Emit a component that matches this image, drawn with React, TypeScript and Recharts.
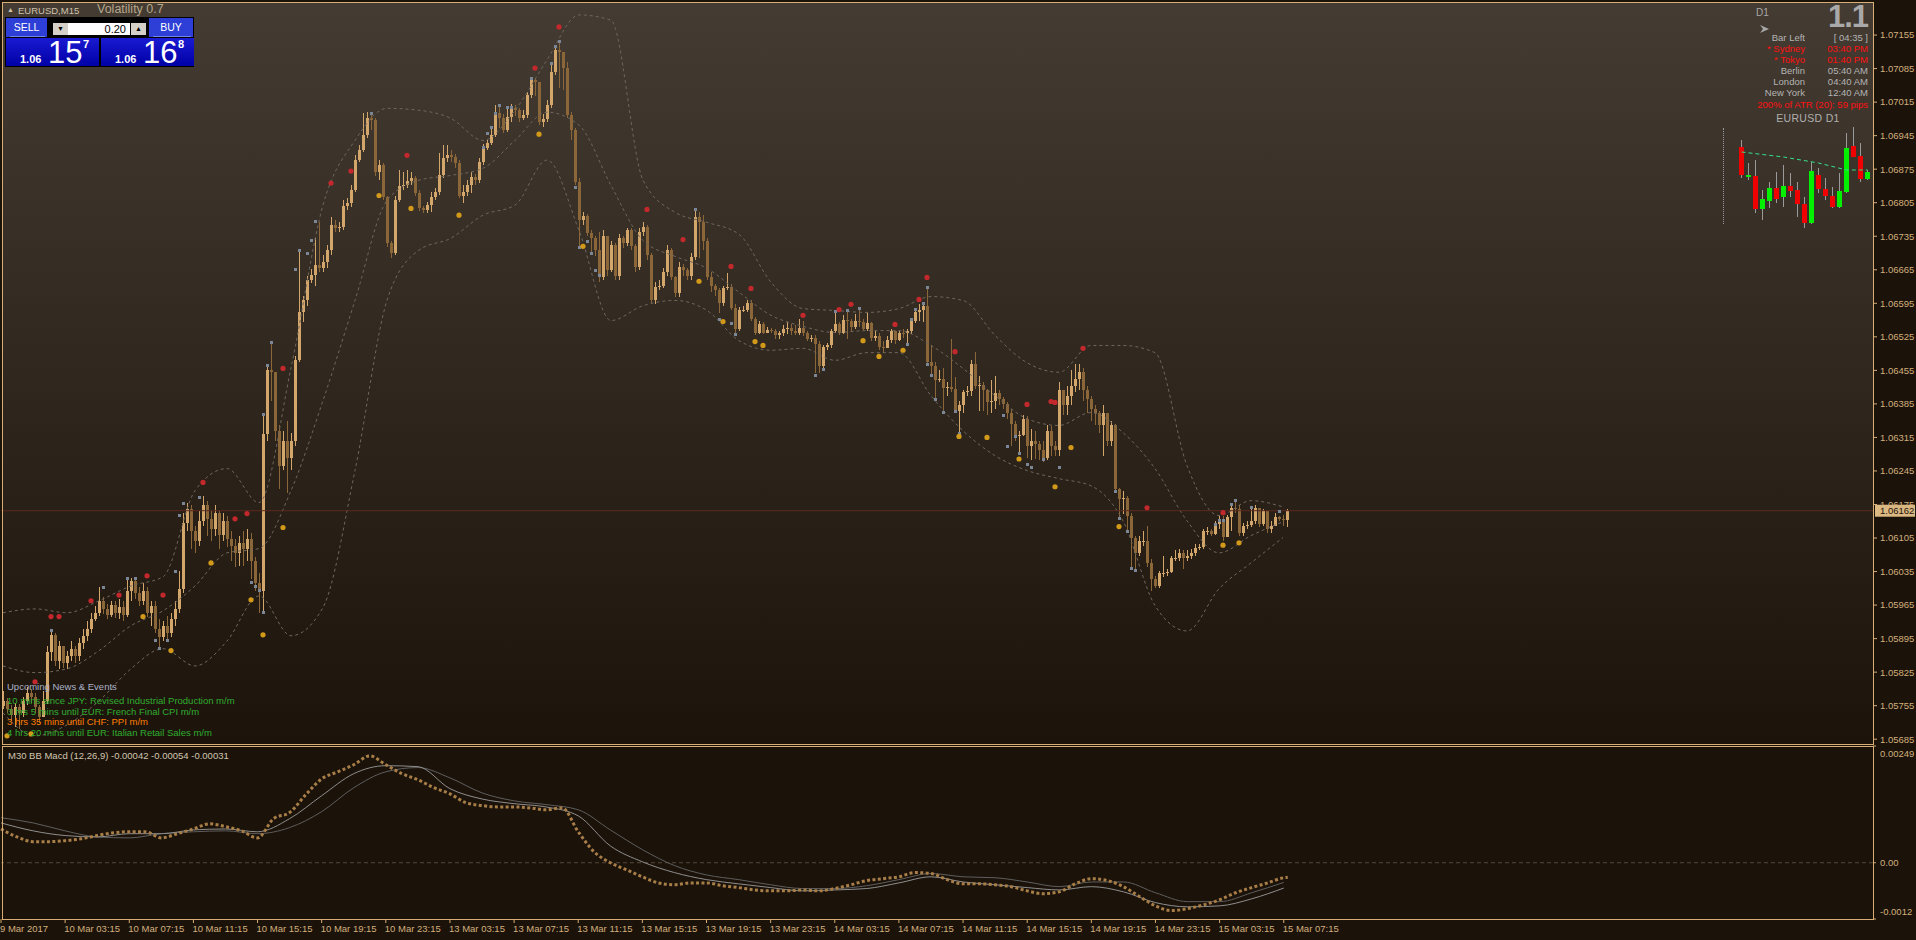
import React from 'react';
import { ComposedChart, Bar, Line, XAxis, YAxis, ReferenceLine } from 'recharts';

const FONT = '"Liberation Sans", Arial, sans-serif';
const BG = '#1b1209';
const FRAME = '#d6ae76';
const AXIS_TEXT = '#d2b07e';
const BULL = '#d3a66c';
const BEAR = '#8b6638';

// prices are kept in points above 1.05000
const BASE = 1.05;
const PT = 0.00001;
const toPrice = (pts: number) => +(BASE + pts * PT).toFixed(5);

const SLOTS = 468; // chart width in 4px bar slots
const firstOpenPts = 755;

const closePts = [
  765, 748, 736, 752, 740, 765, 782, 773, 752, 732,
  765, 868, 903, 849, 880, 845, 859, 874, 859, 886,
  901, 915, 936, 949, 974, 957, 945, 966, 949, 961,
  945, 995, 1016, 991, 974, 995, 949, 963, 915, 899,
  922, 907, 936, 957, 999, 1137, 1166, 1120, 1099, 1141,
  1173, 1145, 1124, 1158, 1112, 1141, 1104, 1089, 1074, 1095,
  1083, 1104, 1058, 1012, 995, 1323, 1455, 1451, 1329, 1256,
  1308, 1273, 1308, 1476, 1576, 1601, 1643, 1655, 1674, 1668,
  1681, 1706, 1758, 1752, 1754, 1799, 1804, 1831, 1894, 1915,
  1946, 1981, 1977, 1869, 1883, 1816, 1720, 1701, 1810, 1839,
  1841, 1850, 1856, 1825, 1793, 1789, 1800, 1816, 1827, 1862,
  1898, 1904, 1900, 1887, 1820, 1827, 1841, 1858, 1852, 1890,
  1919, 1929, 1946, 1992, 1981, 1956, 1984, 2002, 1998, 1981,
  1988, 2030, 2061, 2057, 1973, 1979, 2009, 2078, 2124, 2120,
  2086, 1988, 1956, 1848, 1768, 1777, 1741, 1731, 1706, 1649,
  1735, 1664, 1716, 1651, 1731, 1720, 1747, 1714, 1670, 1743,
  1754, 1695, 1601, 1630, 1632, 1660, 1706, 1649, 1616, 1670,
  1664, 1651, 1691, 1775, 1764, 1726, 1649, 1632, 1622, 1595,
  1626, 1630, 1586, 1542, 1580, 1582, 1595, 1563, 1534, 1551,
  1534, 1540, 1538, 1528, 1532, 1542, 1544, 1538, 1534, 1544,
  1532, 1521, 1523, 1511, 1465, 1503, 1507, 1538, 1551, 1534,
  1561, 1559, 1546, 1559, 1557, 1542, 1553, 1523, 1526, 1503,
  1501, 1519, 1538, 1519, 1534, 1532, 1538, 1559, 1576, 1580,
  1590, 1472, 1465, 1434, 1438, 1419, 1421, 1417, 1371, 1382,
  1409, 1411, 1469, 1423, 1425, 1413, 1388, 1392, 1407, 1396,
  1384, 1365, 1344, 1319, 1321, 1354, 1298, 1308, 1302, 1288,
  1273, 1329, 1298, 1288, 1413, 1382, 1402, 1423, 1438, 1451,
  1413, 1396, 1375, 1367, 1340, 1365, 1308, 1340, 1208, 1187,
  1189, 1152, 1106, 1074, 1099, 1099, 1053, 1020, 1005, 1031,
  1033, 1035, 1064, 1064, 1074, 1064, 1068, 1074, 1085, 1087,
  1120, 1120, 1114, 1135, 1145, 1108, 1148, 1168, 1166, 1116,
  1131, 1133, 1141, 1168, 1135, 1162, 1124, 1131, 1148, 1145,
  1143, 1162,
];

const highPts = [
  786, 771, 757, 761, 759, 773, 794, 790, 782, 757,
  786, 880, 915, 907, 890, 880, 870, 890, 880, 896,
  915, 932, 949, 963, 1003, 982, 968, 974, 974, 978,
  974, 1020, 1022, 1020, 1003, 1012, 1003, 974, 974, 936,
  932, 943, 949, 974, 1037, 1158, 1179, 1173, 1131, 1162,
  1192, 1183, 1162, 1173, 1162, 1158, 1152, 1120, 1104, 1110,
  1120, 1124, 1116, 1066, 1033, 1363, 1468, 1515, 1451, 1340,
  1329, 1350, 1325, 1486, 1702, 1611, 1653, 1666, 1731, 1764,
  1695, 1716, 1775, 1768, 1764, 1810, 1814, 1841, 1904, 1925,
  1992, 1994, 1992, 1981, 1894, 1887, 1820, 1726, 1820, 1873,
  1869, 1873, 1869, 1860, 1831, 1799, 1806, 1827, 1835, 1908,
  1925, 1925, 1915, 1906, 1894, 1841, 1852, 1869, 1864, 1898,
  1927, 1935, 1963, 2009, 2009, 1990, 2004, 2011, 2009, 2002,
  1998, 2036, 2067, 2065, 2057, 1990, 2019, 2099, 2134, 2144,
  2103, 2099, 1994, 1961, 1856, 1785, 1781, 1747, 1735, 1743,
  1747, 1735, 1726, 1720, 1739, 1735, 1752, 1752, 1718, 1752,
  1764, 1758, 1701, 1639, 1643, 1668, 1716, 1710, 1653, 1681,
  1677, 1668, 1701, 1793, 1785, 1779, 1731, 1660, 1635, 1626,
  1632, 1658, 1635, 1593, 1588, 1590, 1601, 1601, 1567, 1559,
  1555, 1546, 1544, 1542, 1538, 1549, 1555, 1551, 1549, 1563,
  1559, 1538, 1528, 1528, 1517, 1507, 1513, 1542, 1576, 1555,
  1570, 1580, 1563, 1572, 1586, 1563, 1576, 1555, 1538, 1532,
  1517, 1526, 1542, 1538, 1538, 1542, 1542, 1563, 1584, 1593,
  1597, 1628, 1507, 1472, 1455, 1459, 1430, 1521, 1442, 1392,
  1413, 1423, 1476, 1493, 1444, 1430, 1417, 1434, 1444, 1413,
  1400, 1388, 1375, 1350, 1329, 1361, 1359, 1333, 1329, 1308,
  1308, 1340, 1338, 1308, 1430, 1402, 1423, 1455, 1468, 1468,
  1459, 1423, 1402, 1382, 1371, 1382, 1354, 1350, 1344, 1210,
  1204, 1192, 1158, 1110, 1110, 1120, 1131, 1062, 1026, 1037,
  1068, 1041, 1068, 1079, 1083, 1079, 1079, 1083, 1093, 1093,
  1124, 1127, 1124, 1141, 1152, 1150, 1154, 1177, 1183, 1173,
  1137, 1141, 1168, 1173, 1166, 1166, 1162, 1141, 1158, 1152,
  1154, 1166,
];

const lowPts = [
  748, 740, 723, 711, 706, 732, 757, 761, 740, 719,
  740, 759, 849, 838, 832, 834, 832, 849, 845, 849,
  874, 890, 907, 932, 943, 947, 936, 940, 938, 936,
  932, 940, 974, 978, 963, 966, 940, 922, 907, 876,
  890, 890, 899, 922, 949, 991, 1120, 1083, 1074, 1089,
  1131, 1110, 1099, 1110, 1083, 1099, 1087, 1058, 1045, 1047,
  1047, 1058, 1020, 995, 949, 949, 1308, 1392, 1308, 1208,
  1246, 1200, 1246, 1298, 1472, 1555, 1590, 1638, 1632, 1660,
  1660, 1668, 1695, 1743, 1743, 1747, 1789, 1795, 1827, 1890,
  1910, 1940, 1956, 1860, 1852, 1810, 1712, 1689, 1695, 1806,
  1831, 1835, 1843, 1818, 1787, 1783, 1783, 1785, 1810, 1822,
  1856, 1890, 1890, 1877, 1814, 1804, 1820, 1825, 1841, 1846,
  1883, 1915, 1925, 1942, 1961, 1950, 1952, 1973, 1986, 1973,
  1977, 1981, 2023, 2028, 1967, 1963, 1973, 2002, 2072, 2044,
  2040, 1981, 1935, 1841, 1710, 1758, 1735, 1699, 1693, 1639,
  1643, 1653, 1660, 1643, 1643, 1710, 1714, 1706, 1660, 1664,
  1735, 1685, 1595, 1593, 1622, 1626, 1651, 1643, 1609, 1609,
  1651, 1643, 1643, 1685, 1689, 1706, 1643, 1618, 1611, 1574,
  1590, 1622, 1580, 1532, 1538, 1576, 1576, 1559, 1528, 1530,
  1530, 1532, 1534, 1521, 1521, 1526, 1530, 1528, 1528, 1528,
  1526, 1517, 1515, 1449, 1449, 1459, 1497, 1501, 1534, 1528,
  1530, 1521, 1538, 1542, 1546, 1538, 1538, 1517, 1517, 1497,
  1492, 1513, 1513, 1511, 1517, 1523, 1507, 1530, 1553, 1559,
  1555, 1467, 1444, 1396, 1430, 1371, 1402, 1409, 1367, 1325,
  1367, 1402, 1402, 1417, 1371, 1371, 1361, 1367, 1375, 1382,
  1375, 1354, 1298, 1308, 1284, 1317, 1273, 1267, 1271, 1267,
  1263, 1267, 1277, 1277, 1277, 1361, 1361, 1382, 1409, 1413,
  1392, 1367, 1350, 1340, 1325, 1277, 1298, 1298, 1200, 1147,
  1156, 1120, 1043, 1037, 1068, 1089, 1045, 995, 1001, 1001,
  1024, 1026, 1031, 1058, 1058, 1041, 1058, 1062, 1068, 1079,
  1083, 1112, 1110, 1112, 1124, 1099, 1110, 1120, 1158, 1110,
  1110, 1124, 1129, 1135, 1129, 1131, 1116, 1116, 1131, 1141,
  1131, 1129,
];

// Bollinger bands, one reading every 8 bars
const BB_STEP = 8;
const bbUpperPts = [949, 957, 949, 974, 1005, 1024, 1204, 1250, 1179, 1460, 1800, 1935, 2002, 1998, 1981, 1935, 1998, 2103, 2197, 2186, 1852, 1785, 1764, 1739, 1639, 1584, 1580, 1576, 1584, 1609, 1601, 1528, 1471, 1451, 1507, 1507, 1492, 1256, 1152, 1183, 1170];
const bbMidPts = [838, 824, 832, 870, 922, 953, 1005, 1074, 1083, 1204, 1392, 1601, 1810, 1852, 1862, 1877, 1935, 1994, 1967, 1841, 1726, 1693, 1668, 1618, 1570, 1547, 1534, 1538, 1538, 1507, 1459, 1402, 1354, 1340, 1367, 1325, 1250, 1141, 1074, 1110, 1139];
const bbLowerPts = [740, 692, 715, 765, 832, 874, 838, 890, 984, 901, 960, 1246, 1601, 1706, 1731, 1779, 1800, 1894, 1747, 1559, 1590, 1601, 1580, 1517, 1497, 1501, 1476, 1492, 1492, 1402, 1329, 1277, 1246, 1229, 1214, 1141, 964, 911, 999, 1053, 1106];

// [bar, points]
const redDots = [[8, 805], [12, 941], [14, 941], [22, 974], [29, 986], [36, 1026], [40, 986], [50, 1221], [58, 1145], [61, 1156], [70, 1459], [82, 1846], [87, 1871], [101, 1904], [133, 2086], [139, 2172], [161, 1791], [170, 1728], [182, 1672], [187, 1626], [200, 1570], [209, 1582], [212, 1593], [223, 1551], [229, 1603], [231, 1649], [238, 1494], [256, 1384], [262, 1390], [263, 1388], [270, 1501], [286, 1168], [305, 1158]];
const orangeDots = [[1, 692], [7, 696], [35, 941], [42, 870], [52, 1053], [62, 976], [65, 903], [70, 1127], [94, 1820], [102, 1793], [114, 1779], [134, 1948], [145, 1714], [174, 1641], [180, 1557], [188, 1515], [190, 1507], [215, 1517], [219, 1484], [225, 1497], [239, 1317], [246, 1315], [254, 1270], [263, 1212], [267, 1294], [279, 1129], [305, 1090], [309, 1095]];
// small swing markers at wick ends
const swingMarks = [[12, 913], [25, 1003], [31, 1022], [33, 1022], [38, 893], [39, 876], [41, 893], [43, 1037], [44, 1154], [45, 1179], [49, 1191], [62, 1014], [63, 1005], [64, 997], [65, 951], [65, 1363], [66, 1467], [67, 1515], [73, 1666], [74, 1706], [76, 1701], [77, 1728], [78, 1766], [92, 1992], [120, 1921], [121, 1950], [122, 1963], [123, 1992], [124, 2009], [126, 2004], [127, 2004], [132, 2065], [137, 2096], [138, 2132], [139, 2142], [143, 1837], [144, 1712], [146, 1726], [147, 1699], [148, 1664], [149, 1655], [173, 1791], [179, 1563], [182, 1553], [183, 1530], [203, 1446], [205, 1457], [208, 1578], [211, 1580], [214, 1586], [226, 1509], [227, 1563], [228, 1584], [230, 1595], [231, 1628], [231, 1469], [232, 1446], [233, 1396], [235, 1369], [238, 1371], [239, 1325], [250, 1361], [251, 1298], [253, 1317], [254, 1283], [256, 1260], [257, 1254], [260, 1269], [264, 1254], [278, 1204], [279, 1147], [281, 1120], [282, 1043], [283, 1039], [303, 1135], [304, 1143], [305, 1143], [307, 1175], [308, 1185], [312, 1170], [319, 1162]];

const priceTicks = [1.07155, 1.07085, 1.07015, 1.06945, 1.06875, 1.06805, 1.06735, 1.06665, 1.06595, 1.06525, 1.06455, 1.06385, 1.06315, 1.06245, 1.06175, 1.06105, 1.06035, 1.05965, 1.05895, 1.05825, 1.05755, 1.05685];
const lastPrice = 1.06162;

const timeLabels = ['9 Mar 2017', '10 Mar 03:15', '10 Mar 07:15', '10 Mar 11:15', '10 Mar 15:15', '10 Mar 19:15', '10 Mar 23:15', '13 Mar 03:15', '13 Mar 07:15', '13 Mar 11:15', '13 Mar 15:15', '13 Mar 19:15', '13 Mar 23:15', '14 Mar 03:15', '14 Mar 07:15', '14 Mar 11:15', '14 Mar 15:15', '14 Mar 19:15', '14 Mar 23:15', '15 Mar 03:15', '15 Mar 07:15'];
const BARS_PER_LABEL = 16;

// MACD: main every 4 bars (+ last bar), the two thin lines every 8 bars
const MACD_STEP = 4;
const macdMain = [
  0.00072, 0.00055, 0.00045, 0.00045, 0.00047, 0.00051, 0.00058, 0.00064, 0.00066, 0.00066,
  0.00053, 0.00062, 0.00072, 0.00083, 0.00077, 0.00068, 0.00053, 0.00094, 0.00107, 0.00145,
  0.00179, 0.00194, 0.00209, 0.00228, 0.00209, 0.0019, 0.00177, 0.0016, 0.00147, 0.00128,
  0.00122, 0.00119, 0.00119, 0.00117, 0.00113, 0.00117, 0.00066, 0.00023, 0, -0.00015,
  -0.0003, -0.00043, -0.00047, -0.00043, -0.00043, -0.00049, -0.00053, -0.00058, -0.0006, -0.0006,
  -0.00058, -0.0006, -0.00055, -0.00047, -0.00038, -0.00034, -0.0003, -0.00021, -0.00023, -0.00036,
  -0.00045, -0.00045, -0.00047, -0.00051, -0.0006, -0.00066, -0.00062, -0.00045, -0.00034, -0.00038,
  -0.00051, -0.00072, -0.00092, -0.00102, -0.00098, -0.0009, -0.00079, -0.00064, -0.00053, -0.00043,
  -0.00032,
];
const macdLast = -0.00031;
const SIG_STEP = 8;
const macdSignalA = [0.00085, 0.00068, 0.00058, 0.00055, 0.00062, 0.00062, 0.0007, 0.00072, 0.00066, 0.00094, 0.00143, 0.0019, 0.00207, 0.00205, 0.00158, 0.00136, 0.00126, 0.00119, 0.001, 0.00036, 0.00002, -0.00021, -0.00036, -0.00045, -0.00053, -0.0006, -0.00058, -0.00055, -0.00043, -0.0003, -0.00041, -0.00047, -0.00053, -0.00058, -0.00051, -0.00062, -0.00085, -0.00094, -0.00092, -0.00077, -0.00054];
const macdSignalB = [0.00096, 0.00085, 0.00068, 0.00055, 0.00053, 0.00062, 0.00066, 0.00068, 0.00062, 0.00075, 0.00109, 0.0016, 0.00194, 0.00203, 0.00181, 0.00149, 0.00132, 0.00124, 0.00113, 0.0007, 0.00028, -0.00006, -0.00026, -0.00036, -0.00047, -0.00055, -0.00055, -0.00049, -0.00036, -0.00023, -0.0003, -0.00032, -0.00041, -0.00051, -0.00041, -0.00041, -0.00064, -0.00083, -0.00083, -0.00064, -0.00042];
const macdTicks = [0.00249, 0, -0.0012];

// D1 mini chart
const miniOpen = [1.06662, 1.06062, 1.06082, 1.05422, 1.05582, 1.05842, 1.05662, 1.05882, 1.05802, 1.05522, 1.05142, 1.06102, 1.05822, 1.05682, 1.05462, 1.05762, 1.06682, 1.06482, 1.06022];
const miniHigh = [1.06802, 1.06342, 1.06402, 1.05802, 1.05962, 1.06162, 1.06302, 1.06142, 1.05962, 1.05662, 1.06362, 1.06242, 1.06042, 1.05862, 1.06142, 1.06942, 1.07062, 1.06742, 1.06202];
const miniLow = [1.06042, 1.06002, 1.05342, 1.05202, 1.05442, 1.05542, 1.05462, 1.05662, 1.05262, 1.05042, 1.05122, 1.05742, 1.05602, 1.05442, 1.05442, 1.05742, 1.06462, 1.05962, 1.06002];
const miniClose = [1.06102, 1.06102, 1.05422, 1.05622, 1.05842, 1.05622, 1.05882, 1.05782, 1.05522, 1.05142, 1.06182, 1.05822, 1.05682, 1.05462, 1.05782, 1.06642, 1.06462, 1.06022, 1.06162];
const miniTrend = [[0, 1.06562], [6, 1.06462], [11, 1.06342], [15, 1.06202], [18, 1.06202]];

const infoRows = [
  ['Bar Left', '[ 04:35 ]', '#b4b4b4'],
  ['* Sydney', '03:40 PM', '#ff1010'],
  ['* Tokyo', '01:40 PM', '#ff1010'],
  ['Berlin', '05:40 AM', '#b4b4b4'],
  ['London', '04:40 AM', '#b4b4b4'],
  ['New York', '12:40 AM', '#b4b4b4'],
];

const newsLines = [
  ['Upcoming News & Events', '#aab2c8', 687],
  ['10 mins since JPY: Revised Industrial Production m/m', '#2fae2f', 701],
  ['3 hrs 5 mins until EUR: French Final CPI m/m', '#2fae2f', 712],
  ['3 hrs 35 mins until CHF: PPI m/m', '#ff7f00', 722],
  ['4 hrs 20 mins until EUR: Italian Retail Sales m/m', '#2fae2f', 733],
];

const priceData: any[] = Array.from({ length: SLOTS }, (_, i) => {
  const row: any = { i };
  if (i < closePts.length) {
    const o = toPrice(i === 0 ? firstOpenPts : closePts[i - 1]);
    const c = toPrice(closePts[i]);
    row.o = o;
    row.c = c;
    row.h = Math.max(toPrice(highPts[i]), o, c);
    row.l = Math.min(toPrice(lowPts[i]), o, c);
  }
  const k = i / BB_STEP;
  if (Number.isInteger(k) && k < bbUpperPts.length) {
    row.bbU = toPrice(bbUpperPts[k]);
    row.bbM = toPrice(bbMidPts[k]);
    row.bbL = toPrice(bbLowerPts[k]);
  }
  return row;
});
redDots.forEach(([b, p]) => { priceData[b].red = toPrice(p); });
orangeDots.forEach(([b, p]) => { priceData[b].orange = toPrice(p); });
swingMarks.forEach(([b, p]) => {
  if (priceData[b].sq == null) priceData[b].sq = toPrice(p);
  else priceData[b].sq2 = toPrice(p);
});

const macdData: any[] = Array.from({ length: SLOTS }, (_, i) => {
  const row: any = { i };
  const m = i / MACD_STEP;
  if (Number.isInteger(m) && m < macdMain.length) row.m = macdMain[m];
  if (i === closePts.length - 1) row.m = macdLast;
  const s = i / SIG_STEP;
  if (Number.isInteger(s) && s < macdSignalA.length) {
    row.sa = macdSignalA[s];
    row.sb = macdSignalB[s];
  }
  return row;
});
const tickBars = timeLabels.map((_, k) => k * BARS_PER_LABEL);

const miniData = miniOpen.map((o, k) => ({ k, o, h: miniHigh[k], l: miniLow[k], c: miniClose[k], trend: null as number | null }));
miniTrend.forEach(([k, v]) => { miniData[k].trend = v; });

const Candle = (props: any) => {
  const { x, y, width, height, payload } = props;
  if (!payload || payload.c == null || y == null || isNaN(y)) return <g />;
  const { o, h, l, c } = payload;
  const span = h - l || 1e-9;
  const px = (v: number) => y + ((h - v) / span) * height;
  const cx = Math.floor(x + width / 2);
  const color = c >= o ? BULL : BEAR;
  const wTop = Math.round(y);
  const wBot = Math.round(y + height);
  const bTop = Math.round(px(Math.max(o, c)));
  const bBot = Math.round(px(Math.min(o, c)));
  return (
    <g>
      <rect x={cx} y={wTop} width={1} height={Math.max(1, wBot - wTop)} fill={color} />
      <rect x={cx - 1} y={bTop} width={3} height={Math.max(1, bBot - bTop)} fill={color} />
    </g>
  );
};

const MiniCandle = (props: any) => {
  const { x, y, width, height, payload } = props;
  if (!payload || y == null || isNaN(y)) return <g />;
  const { o, h, l, c } = payload;
  const span = h - l || 1e-9;
  const px = (v: number) => y + ((h - v) / span) * height;
  const cx = Math.floor(x + width / 2);
  const bTop = Math.round(px(Math.max(o, c)));
  const bBot = Math.round(px(Math.min(o, c)));
  return (
    <g>
      <rect x={cx} y={Math.round(y)} width={1} height={Math.max(1, Math.round(height))} fill="#9a9a9a" />
      <rect x={cx - 2} y={bTop} width={5} height={Math.max(1, bBot - bTop)} fill={c >= o ? '#00f000' : '#f00000'} />
    </g>
  );
};

const makeDot = (fill: string) => (p: any) => {
  if (p.value == null || p.cy == null || isNaN(p.cy)) return <g key={`n${p.index}`} />;
  return <circle key={`d${p.index}`} cx={p.cx} cy={p.cy} r={2.6} fill={fill} />;
};

const makeSquare = (p: any) => {
  if (p.value == null || p.cy == null || isNaN(p.cy)) return <g key={`n${p.index}`} />;
  return <rect key={`s${p.index}`} x={Math.floor(p.cx) - 1} y={Math.round(p.cy) - 1} width={3} height={3} fill="#7b8697" />;
};

const PriceBox = (props: any) => {
  const vb = props.viewBox || {};
  const x = (vb.x || 0) + (vb.width || 0);
  const y = vb.y || 0;
  return (
    <g>
      <rect x={x + 2} y={y - 6} width={40} height={12} fill="#dcb882" />
      <text x={x + 7} y={y + 3.5} fill="#1b1209" fontSize={9.5} fontFamily={FONT}>{lastPrice.toFixed(5)}</text>
    </g>
  );
};

const TimeTick = (props: any) => {
  const { x, y, payload } = props;
  const label = timeLabels[Math.round(payload.value / BARS_PER_LABEL)];
  return (
    <text x={x - 1} y={y} dy="0.71em" fill={AXIS_TEXT} fontSize={9.5} fontFamily={FONT} textAnchor="start">{label}</text>
  );
};

const MacdTick = (props: any) => {
  const { x, y, payload } = props;
  const v = payload.value;
  const label = v === 0 ? '0.00' : String(v);
  const dy = v > 0.002 ? 11 : v < -0.001 ? -4 : 3;
  return <text x={x} y={y + dy} fill={AXIS_TEXT} fontSize={9.5} fontFamily={FONT} textAnchor="start">{label}</text>;
};

const abs = (style: React.CSSProperties): React.CSSProperties => ({ position: 'absolute', ...style });

function TradePanel() {
  const btn = (left: number, width: number, text: string) => (
    <div style={abs({ left, top: 18, width, height: 19, background: '#2d3fd6', color: '#fff', fontSize: 10.5, lineHeight: '18px', textAlign: 'center' })}>
      {text}
      <div style={abs({ left: 4, right: 2, bottom: 0, height: 1, background: '#7584ec' })} />
    </div>
  );
  const priceBox = (left: number, big: string, pip: string) => (
    <div style={abs({ left, top: 38, width: 93, height: 28, background: 'linear-gradient(#1a1ad2, #0000a6)', color: '#fff' })}>
      <div style={abs({ left: 14, top: 16, fontSize: 11, fontWeight: 'bold', lineHeight: '11px' })}>1.06</div>
      <div style={abs({ left: 42, top: -1, fontSize: 31, lineHeight: '31px' })}>{big}</div>
      <div style={abs({ left: 77, top: 1, fontSize: 11, fontWeight: 'bold', lineHeight: '11px' })}>{pip}</div>
    </div>
  );
  return (
    <>
      <div style={abs({ left: 5, top: 17, width: 189, height: 50, background: '#000' })} />
      {btn(6, 41, 'SELL')}
      {btn(149, 44, 'BUY')}
      <div style={abs({ left: 53, top: 23, width: 15, height: 12, background: '#d4d0c8', fontSize: 7, lineHeight: '12px', textAlign: 'center', color: '#000' })}>▼</div>
      <div style={abs({ left: 68, top: 23, width: 62, height: 12, background: '#fff', fontSize: 11, lineHeight: '12px', textAlign: 'right', color: '#000', paddingRight: 4, boxSizing: 'border-box' })}>0.20</div>
      <div style={abs({ left: 131, top: 23, width: 15, height: 12, background: '#d4d0c8', fontSize: 7, lineHeight: '12px', textAlign: 'center', color: '#000' })}>▲</div>
      {priceBox(6, '15', '7')}
      {priceBox(101, '16', '8')}
    </>
  );
}

export default function App() {
  return (
    <div style={abs({ left: 0, top: 0, width: 1916, height: 940, background: BG, overflow: 'hidden', fontFamily: FONT })}>
      <div style={abs({ left: 2, top: 2, width: 1871, height: 742, background: 'linear-gradient(#443b32, #1c130b)' })} />

      <div style={abs({ left: 0, top: 0 })}>
        <ComposedChart width={1916} height={745} data={priceData} margin={{ top: 2, right: 0, bottom: 1, left: 1 }}>
          <XAxis dataKey="i" type="category" hide />
          <YAxis
            orientation="right"
            width={43}
            domain={[1.05675, 1.07224]}
            allowDataOverflow
            ticks={priceTicks}
            interval={0}
            tickSize={4}
            tickMargin={3}
            axisLine={false}
            tickLine={{ stroke: FRAME }}
            tick={{ fill: AXIS_TEXT, fontSize: 9.5, fontFamily: FONT }}
            tickFormatter={(v: number) => v.toFixed(5)}
          />
          <Line dataKey="bbU" type="monotone" stroke="#6f675d" strokeDasharray="3 3" dot={false} activeDot={false} connectNulls isAnimationActive={false} />
          <Line dataKey="bbM" type="monotone" stroke="#6f675d" strokeDasharray="3 3" dot={false} activeDot={false} connectNulls isAnimationActive={false} />
          <Line dataKey="bbL" type="monotone" stroke="#6f675d" strokeDasharray="3 3" dot={false} activeDot={false} connectNulls isAnimationActive={false} />
          <Bar dataKey={(d: any) => (d.c == null ? null : [d.l, d.h])} barSize={3} shape={Candle} isAnimationActive={false} />
          <Line dataKey="sq" stroke="none" dot={makeSquare} activeDot={false} isAnimationActive={false} />
          <Line dataKey="sq2" stroke="none" dot={makeSquare} activeDot={false} isAnimationActive={false} />
          <Line dataKey="red" stroke="none" dot={makeDot('#c3282d')} activeDot={false} isAnimationActive={false} />
          <Line dataKey="orange" stroke="none" dot={makeDot('#d29a18')} activeDot={false} isAnimationActive={false} />
          <ReferenceLine y={lastPrice} stroke="#5c2a20" label={<PriceBox />} />
        </ComposedChart>
      </div>

      <div style={abs({ left: 0, top: 745 })}>
        <ComposedChart width={1916} height={195} data={macdData} margin={{ top: 1, right: 0, bottom: 0, left: 1 }}>
          <XAxis dataKey="i" type="category" ticks={tickBars} interval={0} height={21} tickSize={4} axisLine={false} tickLine={{ stroke: FRAME }} tick={<TimeTick />} />
          <YAxis orientation="right" width={43} domain={[-0.0012, 0.00249]} allowDataOverflow ticks={macdTicks} interval={0} tickSize={3} tickMargin={4} axisLine={false} tickLine={{ stroke: FRAME }} tick={<MacdTick />} />
          <ReferenceLine y={0} stroke="#55493e" strokeDasharray="4 3" />
          <Line dataKey="sb" type="monotone" stroke="#5e5e5e" dot={false} activeDot={false} connectNulls isAnimationActive={false} />
          <Line dataKey="sa" type="monotone" stroke="#8e8e8e" dot={false} activeDot={false} connectNulls isAnimationActive={false} />
          <Line dataKey="m" type="monotone" stroke="#a87e48" strokeWidth={3} strokeDasharray="3 2.4" dot={false} activeDot={false} connectNulls isAnimationActive={false} />
        </ComposedChart>
      </div>

      {/* frame lines */}
      <div style={abs({ left: 2, top: 2, width: 1872, height: 1, background: FRAME })} />
      <div style={abs({ left: 2, top: 2, width: 1, height: 743, background: FRAME })} />
      <div style={abs({ left: 2, top: 744, width: 1872, height: 1, background: FRAME })} />
      <div style={abs({ left: 2, top: 746, width: 1872, height: 1, background: FRAME })} />
      <div style={abs({ left: 2, top: 746, width: 1, height: 174, background: FRAME })} />
      <div style={abs({ left: 2, top: 919, width: 1872, height: 1, background: FRAME })} />
      <div style={abs({ left: 1873, top: 2, width: 1, height: 743, background: FRAME })} />
      <div style={abs({ left: 1873, top: 746, width: 1, height: 174, background: FRAME })} />

      {/* D1 mini chart */}
      <div style={abs({ left: 1723, top: 128, width: 0, height: 96, borderLeft: '1px dotted #9a9a9a' })} />
      <div style={abs({ left: 1738, top: 120 })}>
        <ComposedChart width={133} height={112} data={miniData} margin={{ top: 0, right: 0, bottom: 0, left: 0 }}>
          <XAxis dataKey="k" type="category" hide />
          <YAxis hide domain={[1.04962, 1.07202]} allowDataOverflow />
          <Bar dataKey={(d: any) => [d.l, d.h]} barSize={5} shape={MiniCandle} isAnimationActive={false} />
          <Line dataKey="trend" stroke="#34e08a" strokeDasharray="4 3" dot={false} activeDot={false} connectNulls isAnimationActive={false} />
        </ComposedChart>
      </div>

      {/* top left */}
      <div style={abs({ left: 7, top: 6, fontSize: 7, color: '#cfc3ae', lineHeight: '8px' })}>▲</div>
      <div style={abs({ left: 18, top: 5, fontSize: 9.5, color: '#cfc3ae', lineHeight: '12px' })}>EURUSD,M15</div>
      <div style={abs({ left: 97, top: 2, fontSize: 12.5, color: '#b6a68b', lineHeight: '14px' })}>Volatility 0.7</div>
      <TradePanel />

      {/* top right info */}
      <div style={abs({ left: 1756, top: 7, fontSize: 10, color: '#a8a8a8', lineHeight: '12px' })}>D1</div>
      <svg style={abs({ left: 1760, top: 25 })} width={9} height={8}>
        <polygon points="0,0 9,4 0,8 3,4" fill="#a8a8a8" />
      </svg>
      <div style={abs({ left: 1780, top: 0, width: 88, textAlign: 'right', fontSize: 31, fontWeight: 'bold', color: '#a9a9a9', lineHeight: '34px', letterSpacing: -1 })}>1.1</div>
      {infoRows.map(([label, value, color], k) => (
        <React.Fragment key={label}>
          <div style={abs({ left: 1700, top: 32 + 11 * k, width: 105, textAlign: 'right', fontSize: 9.5, color, lineHeight: '12px' })}>{label}</div>
          <div style={abs({ left: 1800, top: 32 + 11 * k, width: 68, textAlign: 'right', fontSize: 9.5, color, lineHeight: '12px' })}>{value}</div>
        </React.Fragment>
      ))}
      <div style={abs({ left: 1700, top: 99, width: 168, textAlign: 'right', fontSize: 9.5, color: '#ff1010', lineHeight: '12px' })}>200% of ATR (20): 59 pips</div>
      <div style={abs({ left: 1748, top: 112, width: 120, textAlign: 'center', fontSize: 10.5, color: '#b0b0b0', lineHeight: '12px', letterSpacing: 0.3 })}>EURUSD D1</div>

      {/* news */}
      {newsLines.map(([text, color, cy]) => (
        <div key={text as string} style={abs({ left: 7, top: (cy as number) - 6, fontSize: 9.5, color: color as string, lineHeight: '12px', whiteSpace: 'nowrap' })}>{text}</div>
      ))}

      <div style={abs({ left: 8, top: 750, fontSize: 9.5, color: '#d2c6b2', lineHeight: '12px' })}>M30 BB Macd (12,26,9) -0.00042 -0.00054 -0.00031</div>
    </div>
  );
}
